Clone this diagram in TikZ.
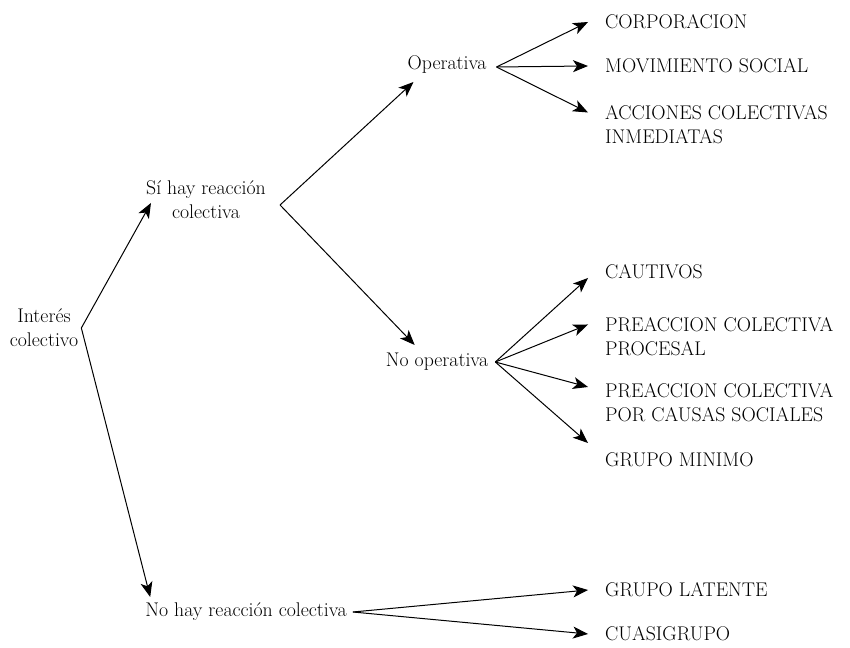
\documentclass[tikz,border=0pt]{standalone}
\usetikzlibrary{positioning,arrows.meta}

\tikzset{
    texto/.style={inner sep=0pt, align=center, font=\fontsize{19.8}{24}\selectfont},
    hoja/.style={texto, anchor=west, align=left},
    flecha/.style={-{Stealth[length=15pt,width=12pt,inset=4pt]}, line width=1pt},
}

\begin{document}
\begin{tikzpicture}[x=1pt, y=1pt]
    \useasboundingbox (0,0) rectangle (850,647);

    \node [texto] (interes) at (44,319) {Interés\\colectivo};
    \node [texto] (si) at (206,447) {Sí hay reacción\\colectiva};
    \node [texto] (no) at (246,35) {No hay reacción colectiva};
    \node [texto] (oper) at (447,582) {Operativa};
    \node [texto] (nooper) at (437,285) {No operativa};

    \node [hoja] (corp) at (605,625) {CORPORACION};
    \node [hoja] (movi) at (605,581) {MOVIMIENTO SOCIAL};
    \node [hoja] (acci) at (605,522.5) {ACCIONES COLECTIVAS\\INMEDIATAS};
    \node [hoja] (caut) at (605,375) {CAUTIVOS};
    \node [hoja] (proc) at (605,310.5) {PREACCION COLECTIVA\\PROCESAL};
    \node [hoja] (caus) at (605,244) {PREACCION COLECTIVA\\POR CAUSAS SOCIALES};
    \node [hoja] (mini) at (605,187) {GRUPO MINIMO};
    \node [hoja] (late) at (605,57) {GRUPO LATENTE};
    \node [hoja] (cuasi) at (605,13) {CUASIGRUPO};

    \coordinate [right=3pt of interes] (i0);
    \coordinate [right=14pt of si, yshift=-5pt] (s0);
    \coordinate [right=10pt of oper, yshift=-2pt] (o0);
    \coordinate [right=7pt of nooper] (n0);
    \coordinate [right=6pt of no] (h0);

    \draw [flecha] (i0) -- ([xshift=5pt, yshift=-3pt]si.west);
    \draw [flecha] (i0) -- ([xshift=5pt, yshift=15pt]no.west);
    \draw [flecha] (s0) -- ([xshift=6pt, yshift=-17pt]oper.west);
    \draw [flecha] (s0) -- ([xshift=29pt, yshift=17pt]nooper.west);

    \draw [flecha] (o0) -- ([xshift=-17pt]corp.west);
    \draw [flecha] (o0) -- ([xshift=-17pt]movi.west);
    \draw [flecha] (o0) -- ([xshift=-17pt, yshift=12pt]acci.west);

    \draw [flecha] (n0) -- ([xshift=-17pt, yshift=-6pt]caut.west);
    \draw [flecha] (n0) -- ([xshift=-17pt, yshift=12pt]proc.west);
    \draw [flecha] (n0) -- ([xshift=-17pt, yshift=16pt]caus.west);
    \draw [flecha] (n0) -- ([xshift=-17pt, yshift=17pt]mini.west);

    \draw [flecha] (h0) -- ([xshift=-17pt]late.west);
    \draw [flecha] (h0) -- ([xshift=-17pt]cuasi.west);
\end{tikzpicture}
\end{document}
